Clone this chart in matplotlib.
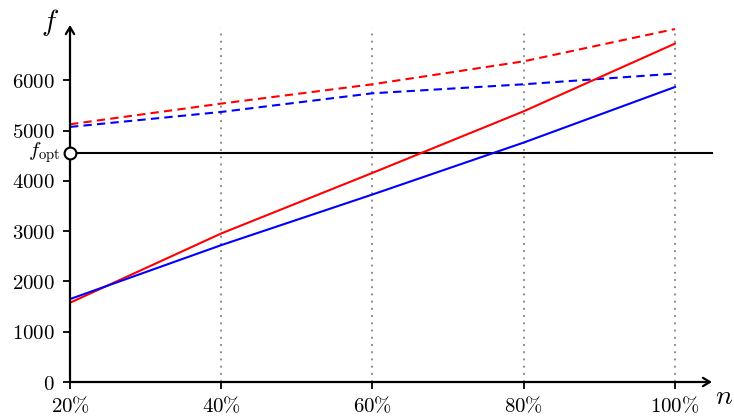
import matplotlib
matplotlib.use("Agg")
import matplotlib.pyplot as plt

plt.rcParams['mathtext.fontset'] = 'cm'
plt.rcParams['font.family'] = 'serif'
plt.rcParams['font.serif'] = ['DejaVu Serif']

n_pct = [20, 40, 60, 80, 100]
red_solid = [1576, 2954, 4159, 5384, 6730]
blue_solid = [1649, 2722, 3729, 4762, 5867]
red_dashed = [5126, 5537, 5921, 6378, 7020]
blue_dashed = [5073, 5371, 5742, 5921, 6133]
f_opt = 4550
yticks = [0, 1000, 2000, 3000, 4000, 5000, 6000]
xtick_labels = ['20%', '40%', '60%', '80%', '100%']

W, H = 734, 419
fig = plt.figure(figsize=(W/100, H/100), dpi=100)
x0, x1 = 20, 104.9
y0, y1 = 0, 7100
ax = fig.add_axes([70/W, (H-382)/H, (712-70)/W, (382-25)/H])
ax.set_xlim(x0, x1)
ax.set_ylim(y0, y1)
for s in ax.spines.values():
    s.set_visible(False)

# dotted vertical guides
for xv in n_pct[1:]:
    ax.plot([xv, xv], [0, 7050], color='gray', lw=1.3, ls=(0, (1, 3)), zorder=1)

# f_opt line
ax.plot([x0, x1], [f_opt, f_opt], color='black', lw=1.5, zorder=2, clip_on=False)

ax.plot(n_pct, red_dashed, color='red', lw=1.5, ls=(0, (4, 2.5)), zorder=3)
ax.plot(n_pct, blue_dashed, color='blue', lw=1.5, ls=(0, (4, 2.5)), zorder=3)
ax.plot(n_pct, red_solid, color='red', lw=1.5, zorder=3)
ax.plot(n_pct, blue_solid, color='blue', lw=1.5, zorder=3)

# axes arrows
ax.annotate('', xy=(x1, 0), xytext=(x0, 0), xycoords='data',
            arrowprops=dict(arrowstyle='->,head_length=0.5,head_width=0.3', lw=1.6, color='black',
                            shrinkA=0, shrinkB=0), annotation_clip=False, zorder=5)
ax.annotate('', xy=(x0, y1), xytext=(x0, 0), xycoords='data',
            arrowprops=dict(arrowstyle='->,head_length=0.5,head_width=0.3', lw=1.6, color='black',
                            shrinkA=0, shrinkB=0), annotation_clip=False, zorder=5)

ax.plot([x0], [f_opt], marker='o', ms=8.5, mfc='white', mec='black', mew=1.5, zorder=6, clip_on=False)

ax.set_xticks(n_pct)
ax.set_xticklabels(['$' + t.replace('%', r'\%') + '$' for t in xtick_labels], fontsize=15)
ax.set_yticks(yticks)
ax.set_yticklabels(['$%d$' % v for v in yticks], fontsize=15)
ax.tick_params(axis='both', direction='out', length=5, width=1.3, color='black')
ax.tick_params(axis='x', pad=5)
ax.tick_params(axis='y', pad=6)

fig.text(44/W, 1 - 153/H, r'$f_{\rm opt}$', fontsize=15, ha='center', va='center')
fig.text(50/W, 1 - 22/H, r'$f$', fontsize=21, ha='center', va='center')
fig.text(724/W, 1 - 396/H, r'$n$', fontsize=20, ha='center', va='center')

fig.savefig('out.png', dpi=100)
